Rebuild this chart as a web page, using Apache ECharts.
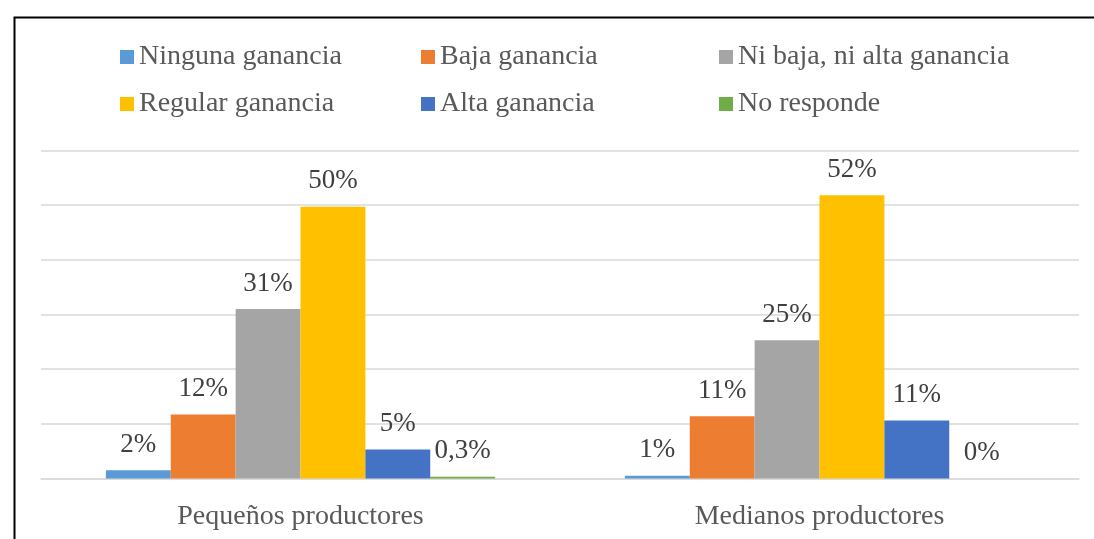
<!DOCTYPE html>
<html><head><meta charset="utf-8">
<script src="https://cdn.jsdelivr.net/npm/echarts@6/dist/echarts.min.js"></script>
<style>html,body{margin:0;padding:0;background:#fff}#c{width:1094px;height:539px}</style>
</head><body><div id="c"></div>
<script>
const categories = ['Pequeños productores', 'Medianos productores'];
const seriesNames = ['Ninguna ganancia', 'Baja ganancia', 'Ni baja, ni alta ganancia', 'Regular ganancia', 'Alta ganancia', 'No responde'];
const ninguna = [1.5, 0.5];
const baja = [11.7, 11.4];
const niBaja = [31.0, 25.3];
const regular = [49.7, 51.8];
const alta = [5.3, 10.6];
const noResponde = [0.3, 0];
const labelsNinguna = ['2%', '1%'];
const labelsBaja = ['12%', '11%'];
const labelsNiBaja = ['31%', '25%'];
const labelsRegular = ['50%', '52%'];
const labelsAlta = ['5%', '11%'];
const labelsNoResponde = ['0,3%', '0%'];
const yTicks = [0, 10, 20, 30, 40, 50, 60];

const colors = ['#5B9BD5', '#ED7D31', '#A5A5A5', '#FFC000', '#4472C4', '#70AD47'];
const values = [ninguna, baja, niBaja, regular, alta, noResponde];
const labels = [labelsNinguna, labelsBaja, labelsNiBaja, labelsRegular, labelsAlta, labelsNoResponde];
const font = '"Liberation Serif", "Times New Roman", serif';

const chart = echarts.init(document.getElementById('c'), null, {renderer: 'canvas'});
function legendCol(left, names) {
  return {
    orient: 'vertical', left: left, top: 43, padding: 0, itemWidth: 14, itemHeight: 14, itemGap: 19,
    icon: 'rect', data: names,
    textStyle: {fontFamily: font, fontSize: 28, color: '#595959'}
  };
}
chart.setOption({
  animation: false,
  color: colors,
  legend: [
    legendCol(120, [seriesNames[0], seriesNames[3]]),
    legendCol(421, [seriesNames[1], seriesNames[4]]),
    legendCol(719, [seriesNames[2], seriesNames[5]])
  ],
  grid: {left: 41, right: 15, top: 150.5, bottom: 60.5},
  xAxis: {
    type: 'category', data: categories,
    axisLine: {lineStyle: {color: '#d9d9d9', width: 1.5}},
    axisTick: {show: false},
    axisLabel: {fontFamily: font, fontSize: 28, color: '#595959', margin: 24}
  },
  yAxis: {
    type: 'value', min: yTicks[0], max: yTicks[yTicks.length - 1], interval: 10,
    axisLabel: {show: false}, axisLine: {show: false}, axisTick: {show: false},
    splitLine: {lineStyle: {color: '#d9d9d9', width: 1.5}}
  },
  series: seriesNames.map((n, i) => ({
    name: n, type: 'bar', data: values[i],
    barGap: '0%', barCategoryGap: '25%',
    itemStyle: {color: colors[i]},
    label: {
      show: true, position: 'top', distance: 12,
      formatter: p => labels[i][p.dataIndex],
      fontFamily: font, fontSize: 27, color: '#404040'
    }
  })),
  graphic: [{
    type: 'rect', left: 12, top: 15, silent: true,
    shape: {width: 1200, height: 700},
    style: {fill: null, stroke: '#000', lineWidth: 2}
  }]
});
</script></body></html>
